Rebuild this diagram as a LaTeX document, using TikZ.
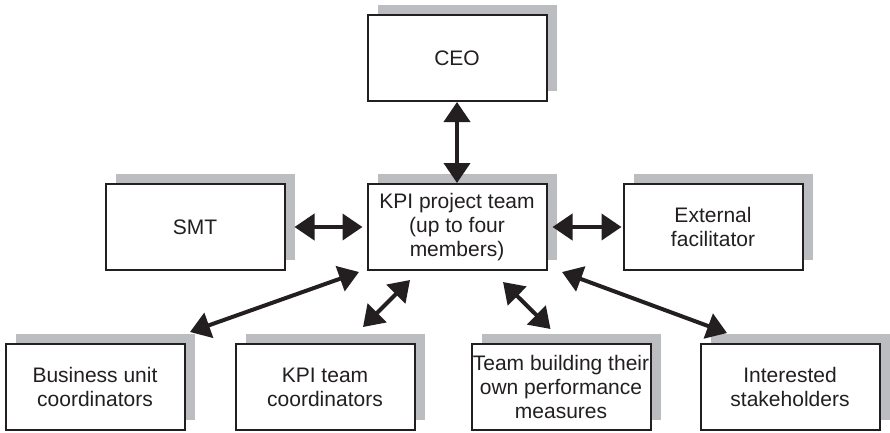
\documentclass[tikz,border=0pt]{standalone}
\usepackage{fontspec}
\setmainfont{Liberation Sans}
\usetikzlibrary{arrows.meta}
\usetikzlibrary{positioning,shadows,calc}
\definecolor{shadowgrey}{RGB}{188,189,193}
\definecolor{boxline}{RGB}{35,31,32}

\begin{document}
\begin{tikzpicture}[%
      x=1pt, y=-1pt,
      every node/.style={rectangle, draw=boxline, line width=2pt, fill=white,
        minimum width=179pt, minimum height=86pt, inner sep=1pt, align=center,
        text=boxline, font=\fontsize{21}{24}\selectfont,
        general shadow={fill=shadowgrey, shadow xshift=10pt, shadow yshift=10pt}},
      link/.style={{Triangle[length=20pt,width=26pt]}-{Triangle[length=20pt,width=26pt]},
        line width=4pt, draw=boxline},
      node distance=81pt
    ]
    \useasboundingbox (0,0) rectangle (890,432);
    \node (kpi) at (457,227) {KPI project team\\(up to four\\members)};
    \node (ceo) [above=of kpi] {CEO};
    \node (smt) [left=of kpi] {SMT};
    \node (ext) [right=75pt of kpi] {External\\facilitator};
    \node (bu) at (95,387) {Business unit\\coordinators};
    \node (ktc) [right=49pt of bu] {KPI team\\coordinators};
    \node (tb) [right=55pt of ktc] {Team building their\\own performance\\measures};
    \node (int) [right=48pt of tb] {Interested\\stakeholders};
    \path (ceo.south) edge[link] (kpi.north)
    (smt.east) edge[link, shorten <=9pt, shorten >=4pt] (kpi.west)
    (kpi.east) edge[link, shorten <=5pt, shorten >=1pt] (ext.west)
    ($(kpi.south west)+(-7.5,1)$) edge[link] ($(bu.north east)+(4.5,-11)$)
    ($(kpi.south west)+(43.5,9)$) edge[link] ($(ktc.north)+(38,-16)$)
    ($(kpi.south)+(46,11)$) edge[link] ($(tb.north)+(-10.5,-14)$)
    ($(kpi.south east)+(14.5,1)$) edge[link] ($(int.north west)+(27.5,-10)$);
  \end{tikzpicture}
\end{document}
